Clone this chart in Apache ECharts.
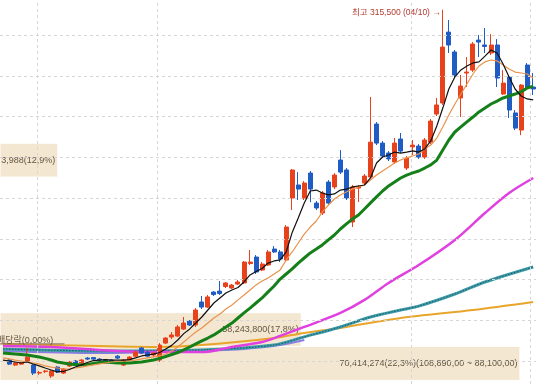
<!DOCTYPE html>
<html><head><meta charset="utf-8">
<script src="https://cdn.jsdelivr.net/npm/echarts@6/dist/echarts.min.js"></script>
<style>html,body{margin:0;padding:0;background:#fff}#c{width:553px;height:384px}</style>
</head><body><div id="c"></div><script>
// daily candles [open, close, low, high]
const candles = [
[100600,98100,97500,101200],[97500,98800,96900,99400],[98100,99100,97500,100000],[100000,102400,99400,108000],
[97500,92600,91400,98100],[92600,92950,91400,93900],[93550,93900,92600,94500],[90800,93900,89600,94500],
[96300,93300,92600,96900],[92600,95100,92000,95700],[96900,99400,96300,100000],[100000,97500,96900,100600],
[98800,100600,98100,101200],[101800,101200,100600,102400],[102100,101200,100600,102400],[101200,100600,100000,101800],
[100600,100000,99400,101200],[100600,99400,98800,101200],[103000,101800,101200,103700],[97500,100600,96900,101200],
[100600,102400,100000,103000],[103000,105500,102400,106100],[108000,104900,104300,108600],[105500,103000,102400,106100],
[103700,104900,102400,105500],[100600,109800,99400,111000],[111000,114100,110400,114700],[114700,116000,113500,117800],
[115300,120900,114700,122100],[119600,123300,119000,127000],[124500,122100,121500,125200],[122100,131300,120900,132500],
[136200,133100,131900,139900],[133100,139300,132500,140500],[142300,140800,139900,142900],[142900,141400,140500,149100],
[145700,147900,144800,148500],[144800,146600,144200,147200],[147200,148500,146600,149700],[147900,160700,147200,161300],
[159800,160700,158900,168100],[163800,154600,153400,165000],[155800,159500,155200,160700],[158900,166900,158300,168100],
[168700,166900,166300,170500],[166900,162600,160700,168100],[162000,182200,160700,183400],[200000,217200,192600,217800],
[208000,205500,198800,215900],[200000,209200,198800,210400],[215300,205500,197500,216600],[196900,193900,192600,198200],
[190800,203100,189600,204300],[209800,196900,195700,211000],[206800,214100,205500,215300],[223300,215900,214700,229400],
[217200,200000,198800,218400],[185300,206800,182200,208000],[206100,206800,197500,208000],[209200,213500,208000,214700],
[212900,234300,212300,262000],[245400,233700,232500,246600],[233700,225800,224500,235000],[227600,224000,222700,228800],
[222100,233700,220900,236800],[236200,228800,227600,239900],[218400,224500,217200,225800],[231300,232500,226400,235600],
[231900,225100,224000,233100],[225100,235600,224000,236800],[234300,247200,233100,248500],[251500,257100,250300,261400],
[258300,292600,257100,315500],[301800,293900,289000,309200],[289600,275500,273600,290800],[261400,268700,249700,275500],
[276700,277300,268100,286500],[278500,294500,277300,295700],[296900,295700,286500,300000],[293900,293000,289000,304300],
[289000,293900,287700,300600],[293900,273600,268100,297500],[263800,270500,263200,278500],[274200,254000,249100,275500],
[252200,242900,241700,254000],[241700,269300,238600,269900],[281600,267500,266300,282800],[268100,266900,263200,276700]
];
const ma5 = [100600,100000,99400,98800,99400,98200,97000,95700,94500,93300,
93600,94800,96300,97600,99100,100300,100600,100800,100500,100600,
100500,100900,101900,103100,103700,104200,105200,107400,109600,112900,
116800,119700,123300,127000,131300,135600,138700,141700,143600,145100,
148500,152800,154900,156800,160100,161400,162000,166900,178900,187800,
197000,204300,204900,203100,201900,202500,204900,205500,206800,207400,
208000,212300,221500,225200,226400,228200,227600,228200,228900,228200,
230100,235000,244200,255200,266900,274300,278600,281000,282900,283500,
287100,290800,289000,282200,274300,266900,262600,260800,260200];
const ma10 = [101900,101300,100600,100000,99400,98800,98200,97000,96300,95700,
95100,95100,95700,96300,97000,97600,98200,98800,99400,99700,
100000,100300,100600,101300,101900,102500,103100,104300,106200,108600,
111700,114800,117800,120300,123300,126400,128900,131900,134400,137500,
140500,143600,146700,149100,150900,153400,155900,162000,166900,172400,
177900,182200,185900,191400,195700,199400,201900,203700,205500,206800,
208000,211100,214100,216600,219000,221500,223300,224600,225800,227000,
230100,232500,236800,243600,250900,257700,263800,270000,276100,281000,
283500,284700,284100,281600,279200,277300,276700,276100,273600];
const ma20 = [104900,104600,104300,104000,103700,103100,102500,101600,100600,99400,
98800,98200,97900,97600,97900,98500,99100,99400,99100,98800,
98800,98800,99100,99400,100000,100600,101600,102800,104000,105200,
106800,108600,110500,112300,114100,116000,118400,120900,123300,126400,
129500,132500,135600,138700,142400,146000,150300,153400,156500,160100,
163200,166300,168700,171200,174300,177300,181000,184100,187100,189600,
193300,197000,200700,204300,207400,209800,212300,214100,215400,216600,
218400,220300,223300,229500,235600,240500,243600,246700,249700,252800,
255200,257700,259500,261400,262600,263800,265100,267500,268700];
// long averages read at a few days [dayIndex, price]
const ma60 = [[0,109200],[8,108600],[16,106800],[25,105500],[33,105500],[38,108600],[43,111700],[46,115400],[50,120900],[56,129500],[60,137500],[64,147900],[69,158900],[75,174300],[80,190800],[84,203100],[88,212300]];
const ma120 = [[0,107400],[16,106200],[33,106800],[45,109800],[50,114800],[56,120900],[61,127000],[66,131300],[69,133700],[75,141100],[80,148500],[88,157700]];
const maPurple = [[0,106200],[16,104900],[26,105500],[33,106200],[40,107400],[46,109800],[50,112900]];
const ma240 = [[0,110500],[16,109200],[26,108600],[33,109800],[45,114100],[50,117200],[56,120300],[66,126400],[78,131300],[88,136200]];
const gridPrices = [100000,125000,150000,175000,200000,225000,250000,275000,300000];
const gridDays = [5.6,25.6,67.7,87.5];
const bands = [
  {low:88100, high:108890, reach:85.8, label:'70,414,274(22,3%)(108,890,00 ~ 88,100,00)'},
  {low:108890, high:129680, reach:49.5, label:'58,243,800(17,8%)'},
  {low:212840, high:233630, reach:9.1, label:'3,988(12,9%)'}
];
const highMark = {day:73, price:315500, label:'최고 315,500 (04/10) →'};
const exDiv = {price:110500, from:-0.5, to:10.2, label:'배당락(0,00%)', labelPrice:112300};
const categories = ma5.map((_, i) => String(i));

const FONT = "'Liberation Sans','Noto Sans CJK KR',sans-serif";
const chart = echarts.init(document.getElementById('c'), null, {renderer:'canvas'});
const longLine = (data, color, width, z, extra) => Object.assign({
  type:'line', xAxisIndex:1, data, smooth:0.3, showSymbol:false, silent:true,
  lineStyle:{color, width}, z
}, extra || {});
chart.setOption({
  animation:false,
  backgroundColor:'#ffffff',
  grid:{left:-3.09, right:16.8, top:0, bottom:0},
  xAxis:[
    {type:'category', data:categories, boundaryGap:true, show:false},
    {type:'value', min:-0.5, max:88.5, show:false}
  ],
  yAxis:{type:'value', min:85900, max:321500, show:false},
  series:[
    {type:'line', xAxisIndex:1, data:[], z:1, silent:true,
     markLine:{silent:true, symbol:'none', label:{show:false},
       lineStyle:{color:'#d6d6d6', type:[3,3], width:1},
       data:[...gridPrices.map(v=>({yAxis:v})), ...gridDays.map(v=>({xAxis:v}))]}},
    {type:'line', xAxisIndex:1, data:[], z:2, silent:true,
     markArea:{silent:true,
       data:bands.map(b=>[
         {name:b.label, coord:[-0.5,b.high],
          itemStyle:{color:'#f3e7d2', borderColor:'#ffffff', borderWidth:1},
          label:{show:true, position:'insideRight', distance:3, color:'#66563f', fontSize:9, fontFamily:FONT}},
         {coord:[b.reach,b.low]}
       ])}},
    longLine(ma240, '#e8a52a', 2, 3),
    longLine(maPurple, '#8c7ae6', 2, 3),
    longLine(ma120, '#3c9ea8', 3, 3),
    longLine(ma120, '#24506a', 1, 3, {lineStyle:{color:'#24506a', width:1, type:[1.5,1.5]}}),
    longLine(ma60, '#e040e0', 2.5, 3),
    {type:'line', xAxisIndex:1, data:[[exDiv.from,exDiv.price],[exDiv.to,exDiv.price]], showSymbol:false, silent:true,
     lineStyle:{color:'#7d6e60', width:1}, z:3,
     markPoint:{symbol:'circle', symbolSize:0, silent:true,
       data:[{coord:[0,exDiv.labelPrice], label:{show:true, formatter:exDiv.label, position:'right', distance:0, offset:[-6,0],
         color:'#66563f', fontSize:9, fontFamily:FONT}}]}},
    {type:'candlestick', data:[['-','-','-','-']].concat(candles), barWidth:4.5, z:4, silent:true,
     itemStyle:{color:'#e8421c', color0:'#1f5cc4', borderColor:'#e8421c', borderColor0:'#1f5cc4', borderWidth:1},
     markPoint:{symbol:'circle', symbolSize:0, silent:true,
       data:[{coord:[highMark.day, highMark.price], label:{show:true, formatter:highMark.label, position:'left', distance:2, offset:[0,3],
         color:'#b3392f', fontSize:8.5, fontFamily:FONT}}]}},
    {type:'line', data:ma20, showSymbol:false, silent:true, lineStyle:{color:'#15801a', width:3}, z:5},
    {type:'line', data:ma10, showSymbol:false, silent:true, lineStyle:{color:'#e8924c', width:1.2}, z:5},
    {type:'line', data:ma5, showSymbol:false, silent:true, lineStyle:{color:'#111111', width:1.2}, z:5}
  ]
});
</script></body></html>
